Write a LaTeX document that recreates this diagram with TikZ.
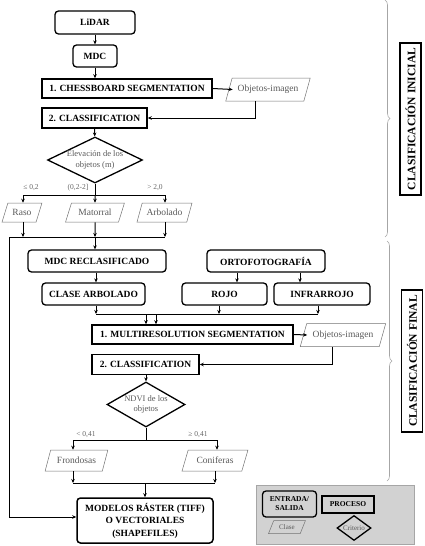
\documentclass[tikz,border=0pt]{standalone}
\usepackage{fontspec}
\setmainfont{Liberation Serif}
\usetikzlibrary{shapes.geometric,decorations.pathreplacing,arrows.meta,calc}
\begin{document}
\begin{tikzpicture}[x=1pt,y=-1pt,
  txt/.style={font=\bfseries\fontsize{9.5}{12.5}\selectfont, align=center, inner sep=0pt},
  io/.style={txt, draw, rounded corners=3.5pt, line width=1.3pt},
  proc/.style={txt, draw, line width=1.5pt},
  cls/.style={trapezium, trapezium left angle=58, trapezium right angle=122, trapezium stretches=true,
    draw=black!55, line width=0.5pt, text=black!65, font=\fontsize{9.5}{11}\selectfont, inner sep=0pt},
  crit/.style={diamond, draw, line width=1.3pt, text=black!65, font=\fontsize{8.5}{10.5}\selectfont, align=center, inner sep=-4pt},
  lab/.style={text=black!60, font=\fontsize{7.5}{9}\selectfont, inner sep=0pt},
  arr/.style={-{Stealth[length=4pt,width=3.5pt]}, line width=1pt},
  ln/.style={line width=1pt},
  brc/.style={draw=gray!70, line width=0.6pt, decorate, decoration={brace, amplitude=5pt}},
  side/.style={txt, draw, line width=1.2pt, rotate=90, font=\bfseries\fontsize{11.5}{13}\selectfont, inner sep=1pt}]
\useasboundingbox (0,0) rectangle (424,546);

% ---- initial classification ----
\node[io, minimum width=80pt, minimum height=23pt] (lidar) at (95,22.5) {LiDAR};
\node[io, minimum width=44pt, minimum height=22pt] (mdc) at (95,56) {MDC};
\node[proc, minimum width=170pt, minimum height=19pt] (chess) at (127,88.5) {1. CHESSBOARD SEGMENTATION};
\node[cls, minimum width=85pt, minimum height=23pt] (obj1) at (268,89.5) {Objetos-imagen};
\node[proc, minimum width=105pt, minimum height=20pt] (class1) at (94.5,118) {2. CLASSIFICATION};
\node[crit, aspect=2.07, minimum width=95pt, minimum height=46pt] (elev) at (95,160) {Elevación de los\\objetos (m)};

\node[cls, minimum width=40pt, minimum height=19pt] (raso) at (22,212.5) {Raso};
\node[cls, minimum width=59pt, minimum height=19pt] (mato) at (95,212.5) {Matorral};
\node[cls, minimum width=55pt, minimum height=19pt] (arbo) at (164.5,212.5) {Arbolado};

\node[lab] (l1) at (31,188) {≤ 0,2};
\node[lab] (l2) at (78,188) {(0,2-2]};
\node[lab] (l3) at (155,188) {> 2,0};

\coordinate (b1) at (95,195);
\coordinate (b1l) at (23,195);
\coordinate (b1r) at (165,195);
\coordinate (m1) at (95,237);
\coordinate (m1l) at (9,237);
\coordinate (m1r) at (165,237);

\draw[arr] (lidar) -- (mdc);
\draw[arr] (mdc) -- (mdc |- chess.north);
\draw[arr] (chess.east) -- ($(obj1.west)+(4,0)$);
\draw[arr] ($(obj1.south)+(-13,0)$) |- (class1.east);
\draw[arr] (class1) -- (elev);
\draw[ln] (elev.south) -- (b1);
\draw[ln] (b1l) -- (b1r);
\draw[arr] (b1l) -- (b1l |- raso.north);
\draw[arr] (b1) -- (mato.north);
\draw[arr] (b1r) -- (b1r |- arbo.north);
\draw[arr] (raso.south -| b1l) -- (b1l |- m1);
\draw[arr] (mato.south) -- (m1);
\draw[arr] (arbo.south -| b1r) -- (m1r);
\draw[ln] (m1l) -- (m1r);

% ---- final classification ----
\node[io, minimum width=138pt, minimum height=22pt] (mdcr) at (97,261) {MDC RECLASIFICADO};
\node[io, minimum width=118pt, minimum height=22pt] (orto) at (266,261) {ORTOFOTOGRAFÍA};
\node[io, minimum width=103pt, minimum height=22pt] (clase) at (93.5,294) {CLASE ARBOLADO};
\node[io, minimum width=85pt, minimum height=22pt] (rojo) at (224.5,294) {ROJO};
\node[io, minimum width=96pt, minimum height=22pt] (infra) at (322,294) {INFRARROJO};
\node[proc, minimum width=201pt, minimum height=19pt] (multi) at (192.5,334.5) {1. MULTIRESOLUTION SEGMENTATION};
\node[cls, minimum width=86pt, minimum height=23pt] (obj2) at (343,335) {Objetos-imagen};
\node[proc, minimum width=107pt, minimum height=20pt] (class2) at (145.5,364.5) {2. CLASSIFICATION};
\node[crit, aspect=1.73, minimum width=78pt, minimum height=45pt] (ndvi) at (146,404.5) {NDVI de los\\objetos};
\node[lab] (l4) at (86,435) {< 0,41};
\node[lab] (l5) at (198,435) {≥ 0,41};
\node[cls, minimum width=63pt, minimum height=21pt] (frond) at (76.5,460.5) {Frondosas};
\node[cls, minimum width=66pt, minimum height=21pt] (conif) at (215,460.5) {Coniferas};
\node[io, minimum width=136pt, minimum height=45pt, line width=1.5pt] (model) at (145,520.5) {MODELOS RÁSTER (TIFF)\\O VECTORIALES\\(SHAPEFILES)};

\coordinate (o1) at (237,272);
\coordinate (o2) at (300,272);
\coordinate (s1) at (96,314);
\coordinate (s2) at (219,314);
\coordinate (s3) at (318,314);
\coordinate (a1) at (146,314);
\coordinate (a2) at (156,314);
\coordinate (b2) at (146,440);
\coordinate (b2l) at (73,440);
\coordinate (b2r) at (217,440);
\coordinate (m2) at (145,483);
\coordinate (m2l) at (73,483);
\coordinate (m2r) at (215,483);
\coordinate (lft) at (9,517);

\draw[arr] (m1) -- (mdcr.north -| m1);
\draw[arr] (mdcr.south -| s1) -- (clase.north -| s1);
\draw[arr] (o1 |- orto.south) -- (o1 |- rojo.north);
\draw[arr] (o2 |- orto.south) -- (o2 |- infra.north);
\draw[arr] (clase.south -| s1) -- (s1);
\draw[arr] (rojo.south -| s2) -- (s2);
\draw[arr] (infra.south -| s3) -- (s3);
\draw[ln] (s1) -- (s3);
\draw[arr] (a1) -- (a1 |- multi.north);
\draw[arr] (a2) -- (a2 |- multi.north);
\draw[arr] (multi.east) -- ($(obj2.west)+(4,0)$);
\draw[arr] ($(obj2.south)+(-11,0)$) |- (class2.east);
\draw[arr] (class2.south -| ndvi) -- (ndvi.north);
\draw[ln] (ndvi.south) -- (b2);
\draw[ln] (b2l) -- (b2r);
\draw[arr] (b2l) -- (b2l |- frond.north);
\draw[arr] (b2r) -- (b2r |- conif.north);
\draw[arr] (frond.south -| m2l) -- (m2l);
\draw[arr] (conif.south -| m2r) -- (m2r);
\draw[ln] (m2l) -- (m2r);
\draw[arr] (m2) -- (model.north -| m2);
\draw[arr] (m1l) -- (lft) -- (model.west |- lft);

% ---- braces and side labels ----
\coordinate (br1a) at (385,0);
\coordinate (br1b) at (385,237);
\coordinate (br2a) at (387,241);
\coordinate (br2b) at (387,481);
\draw[brc] (br1a) -- (br1b);
\draw[brc] (br2a) -- (br2b);
\node[side, minimum width=152pt, minimum height=21pt] (sideA) at (410.5,119) {CLASIFICACIÓN INICIAL};
\node[side, minimum width=142pt, minimum height=21pt] (sideB) at (412,361) {CLASIFICACIÓN FINAL};

% ---- legend ----
\node[draw=gray!70, fill=gray!35, line width=0.6pt, minimum width=158pt, minimum height=59pt, inner sep=0pt] (leg) at (335,514.5) {};
\node[io, minimum width=54pt, minimum height=26pt, font=\bfseries\fontsize{7.5}{9}\selectfont] (lio) at (289.5,504) {ENTRADA/\\SALIDA};
\node[proc, minimum width=52pt, minimum height=17pt, font=\bfseries\fontsize{7.5}{9}\selectfont] (lproc) at (348,504.5) {PROCESO};
\node[cls, minimum width=37pt, minimum height=13pt, font=\fontsize{7}{8}\selectfont] (lcls) at (287,527) {Clase};
\node[crit, aspect=1.4, minimum width=34pt, minimum height=25pt, inner sep=-3pt, font=\fontsize{7}{8}\selectfont] (lcrit) at (354,528) {Criterio};
\end{tikzpicture}
\end{document}
